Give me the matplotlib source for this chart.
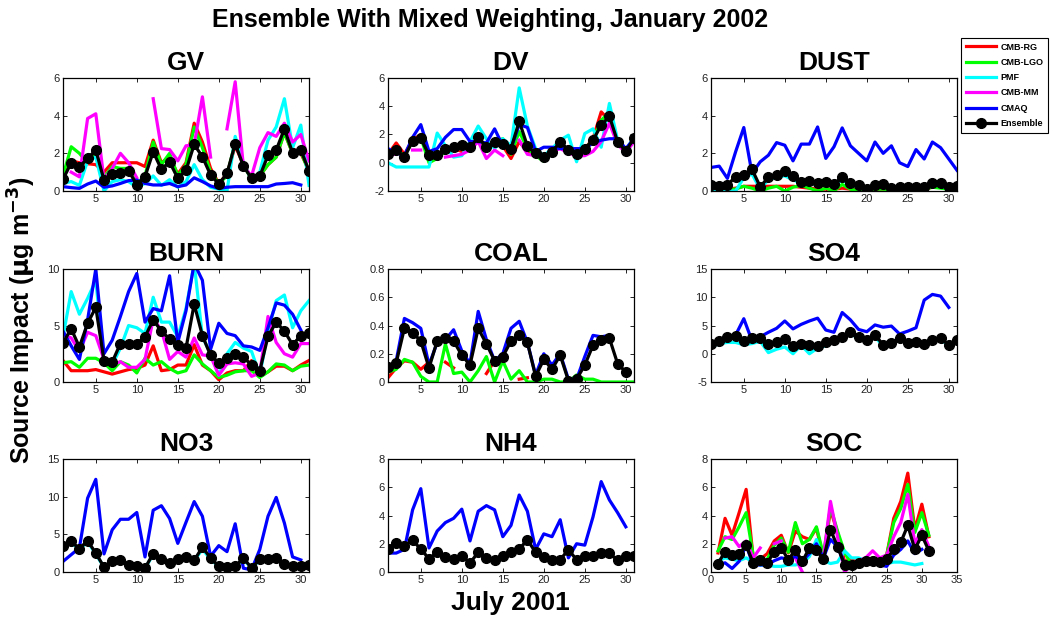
import numpy as np
import matplotlib
matplotlib.use('Agg')
import matplotlib.pyplot as plt
from matplotlib.lines import Line2D
from numpy import nan

plt.rcParams['font.family'] = ['Liberation Sans', 'DejaVu Sans']
plt.rcParams['mathtext.default'] = 'bf'

days = np.arange(1, 32)

# GV
gv_rg = [0.7,1.6,1.5,1.45,1.4,1.0,1.5,1.5,1.5,1.5,1.3,2.7,1.5,1.8,0.9,1.5,3.6,2.6,1.2,0.4,0.9,2.4,1.4,0.7,0.8,1.4,1.8,3.1,2.0,2.0,1.1]
gv_lgo = [0.8,2.35,2.0,1.5,2.1,0.7,1.3,1.2,1.2,0.4,0.8,2.6,1.4,2.0,0.8,1.4,3.4,2.3,1.0,0.4,0.8,2.6,1.4,0.6,0.8,1.4,1.8,3.1,2.0,2.1,1.0]
gv_pmf = [0.4,0.5,0.3,1.6,1.8,0.0,0.5,0.6,0.5,0.2,0.4,0.8,0.3,0.6,0.2,0.5,1.4,0.6,0.2,0.1,0.0,2.9,1.5,0.6,1.0,2.7,3.4,4.9,2.3,3.5,0.3]
gv_mm = [nan,1.0,0.75,3.85,4.1,0.6,1.2,2.0,1.5,0.7,nan,4.9,2.25,2.2,1.6,2.4,2.45,5.0,1.8,nan,3.3,5.8,1.3,0.8,2.3,3.1,2.9,3.6,2.6,3.0,1.6]
gv_cmaq = [0.23,0.18,0.14,0.37,0.53,0.2,0.27,0.4,0.55,0.58,0.4,0.32,0.32,0.4,0.23,0.32,0.7,0.5,0.27,0.14,0.2,0.23,0.23,0.23,0.23,0.23,0.37,0.4,0.44,0.32,nan]
gv_ens = [0.62,1.5,1.29,1.73,2.17,0.58,0.9,0.97,1.08,0.32,0.76,2.08,1.15,1.55,0.67,1.1,2.47,1.82,0.85,0.37,0.93,2.52,1.32,0.67,0.79,1.9,2.17,3.3,2.03,2.2,1.06]

# DV
dv_rg = [0.6,1.4,0.6,1.6,2.0,0.4,0.5,0.9,1.0,0.8,1.0,1.6,1.1,1.4,1.2,0.3,1.5,0.8,0.6,0.3,0.8,1.4,0.9,0.6,1.0,1.7,3.6,3.0,1.4,0.8,1.7]
dv_lgo = [0.6,0.9,0.5,1.5,1.8,0.0,0.3,0.8,1.0,1.0,1.0,1.7,1.1,1.5,1.7,0.6,2.2,1.0,0.5,0.1,0.7,1.4,0.9,0.5,1.0,1.6,3.0,3.6,1.5,0.8,1.8]
dv_pmf = [0.0,-0.3,-0.3,-0.3,-0.3,-0.3,2.1,1.2,0.4,0.5,1.5,2.6,1.7,1.0,1.7,1.2,5.3,2.6,1.0,0.5,1.0,1.6,1.95,0.07,2.07,2.4,1.1,4.2,1.6,0.9,1.8]
dv_mm = [0.6,0.6,nan,0.9,0.9,nan,nan,0.4,0.5,0.6,0.9,1.5,0.3,0.9,0.5,nan,1.6,0.6,0.5,0.4,0.8,1.0,0.7,0.5,0.5,0.8,1.5,2.8,1.3,0.7,1.5]
dv_cmaq = [1.0,0.7,0.5,1.8,2.7,0.8,1.0,1.8,2.35,2.35,1.5,1.5,1.4,2.4,1.2,1.0,2.7,2.5,0.8,1.1,1.1,1.0,1.0,1.0,1.0,1.4,1.6,1.7,1.7,1.0,1.7]
dv_ens = [0.59,0.9,0.38,1.55,1.72,0.54,0.54,1.0,1.08,1.25,1.08,1.79,1.13,1.48,1.3,1.0,2.94,1.18,0.66,0.42,0.78,1.48,0.9,0.59,1.0,1.6,2.66,3.3,1.48,0.82,1.72]

# DUST
dust_rg = [0.05,0.1,0.1,0.15,0.25,0.25,0.25,0.25,0.25,0.25,0.25,0.2,0.15,0.1,0.1,0.1,0.15,0.1,0.1,0.05,0.1,0.1,0.05,0.1,0.1,0.1,0.1,0.2,0.2,0.1,0.1]
dust_lgo = [0.05,0.1,0.1,0.1,0.25,0.15,0.0,0.15,0.25,0.0,0.2,0.3,0.15,0.0,0.15,0.0,0.35,0.1,0.0,0.05,0.1,0.1,0.05,0.1,0.05,0.1,0.1,0.2,0.15,0.1,0.05]
dust_pmf = [0.1,0.05,0.0,0.0,0.7,0.9,0.1,0.6,0.75,0.8,0.6,0.4,0.45,0.3,0.35,0.25,0.6,0.3,0.2,0.05,0.2,0.25,0.1,0.1,0.15,0.15,0.15,0.35,0.3,0.1,0.15]
dust_mm = [nan]*31
dust_cmaq = [1.25,1.32,0.67,2.08,3.37,0.93,1.55,1.9,2.57,2.43,1.6,2.49,2.49,3.4,1.73,2.35,3.35,2.4,2.0,1.6,2.6,2.0,2.4,1.5,1.3,2.2,1.7,2.6,2.3,1.7,1.1]
dust_ens = [0.32,0.26,0.32,0.76,0.85,1.15,0.23,0.72,0.85,1.06,0.8,0.5,0.55,0.4,0.48,0.35,0.76,0.4,0.3,0.1,0.3,0.35,0.15,0.2,0.2,0.2,0.2,0.45,0.4,0.2,0.25]

# BURN
burn_rg = [1.9,1.0,1.0,1.0,1.1,0.9,0.7,0.9,1.1,1.2,1.5,3.2,1.0,1.1,1.5,1.5,3.3,1.5,1.0,0.2,0.8,1.0,1.0,1.9,0.5,0.9,1.4,1.4,1.0,1.5,1.9]
burn_lgo = [1.7,1.8,1.3,2.1,2.1,1.7,1.0,1.8,1.5,0.8,2.1,1.5,1.8,1.2,0.8,1.0,2.4,1.6,1.0,0.4,0.6,0.9,1.0,1.0,0.4,0.9,1.6,1.5,1.0,1.4,1.5]
burn_pmf = [4.0,8.0,6.0,7.4,9.0,1.8,1.5,3.0,5.0,4.8,4.3,7.5,5.3,5.3,4.0,6.5,10.5,4.0,2.5,0.6,2.5,3.5,3.0,2.7,0.6,4.5,7.2,7.7,4.8,6.3,7.2]
burn_mm = [4.2,3.9,2.7,4.4,4.1,2.0,1.5,1.8,1.3,1.3,2.0,5.6,4.6,2.0,2.7,2.2,3.9,2.4,2.3,0.6,1.6,1.7,1.6,0.5,0.8,5.8,3.5,2.5,2.2,3.4,3.4]
burn_cmaq = [4.5,3.2,2.0,5.5,10.0,2.5,3.7,5.8,8.0,9.6,5.3,6.5,6.3,9.4,3.5,6.3,10.5,9.0,2.9,5.2,4.3,4.1,3.2,3.1,2.8,4.8,7.0,6.8,6.0,4.6,nan]
burn_ens = [3.47,4.7,3.1,5.2,6.6,1.9,1.76,3.4,3.4,3.4,4.0,5.5,4.5,3.8,3.3,3.0,6.9,4.1,2.35,1.7,2.1,2.5,2.2,1.5,1.0,4.05,5.3,4.5,3.3,4.1,4.3]

# COAL
coal_rg = [0.03,0.1,0.15,0.14,0.09,0.14,nan,0.14,0.1,nan,nan,nan,0.06,0.15,nan,nan,0.02,0.03,nan,nan,nan,nan,nan,nan,nan,nan,nan,nan,nan,nan,nan]
coal_lgo = [0.07,0.09,0.16,0.14,0.04,0.0,0.0,0.27,0.06,0.07,0.0,0.08,0.18,0.0,0.15,0.02,0.08,0.0,0.0,0.02,0.02,0.0,0.0,0.05,0.02,0.02,0.0,0.0,0.0,0.0,0.0]
coal_pmf = [nan]*31
coal_mm = [nan]*31
coal_cmaq = [0.1,0.15,0.45,0.42,0.38,0.12,0.28,0.3,0.37,0.22,0.13,0.5,0.3,0.15,0.2,0.38,0.43,0.28,0.05,0.2,0.12,0.2,0.02,0.02,0.18,0.33,0.32,0.33,nan,nan,nan]
coal_ens = [0.106,0.136,0.38,0.35,0.29,0.1,0.29,0.31,0.29,0.19,0.12,0.38,0.27,0.15,0.18,0.29,0.33,0.28,0.04,0.16,0.09,0.19,0.01,0.02,0.12,0.26,0.3,0.31,0.13,0.07,nan]

# SO4
so4_rg = [nan]*31
so4_lgo = [nan]*31
so4_pmf = [1.2,1.8,2.0,2.0,1.6,1.8,2.2,0.2,0.8,1.2,0.0,1.5,0.0,1.0,1.4,2.2,3.0,3.5,2.8,2.2,3.0,1.3,1.5,2.7,1.8,1.8,1.7,2.3,2.5,1.5,2.3]
so4_mm = [nan]*31
so4_cmaq = [1.8,1.7,2.7,3.3,6.2,2.3,3.0,3.8,4.5,5.8,4.4,5.2,5.8,6.3,4.2,3.8,7.3,6.0,4.3,3.9,5.1,4.7,4.9,3.5,4.0,4.6,9.5,10.5,10.2,8.2,nan]
so4_ens = [1.8,2.2,2.9,3.1,2.2,2.7,2.8,1.8,2.0,2.6,1.4,1.8,1.6,1.4,2.0,2.4,3.0,3.9,3.0,2.5,3.3,1.6,1.9,2.8,1.9,2.0,1.8,2.5,2.7,1.6,2.5]

# NO3
no3_rg = [nan]*31
no3_lgo = [nan]*31
no3_pmf = [3.2,3.9,3.0,4.0,2.4,0.6,1.3,1.5,0.8,0.7,0.5,2.3,1.6,1.1,1.6,1.9,1.5,3.0,1.7,0.7,0.6,0.7,1.7,0.5,1.6,1.6,1.7,1.0,0.7,0.7,0.9]
no3_mm = [nan]*31
no3_cmaq = [1.4,2.3,3.2,9.8,12.3,2.4,5.6,7.0,7.0,7.9,2.0,8.2,8.8,7.1,3.8,6.6,9.35,7.4,2.1,3.5,2.7,6.4,0.5,0.3,3.0,7.4,9.9,6.5,2.0,1.6,nan]
no3_ens = [3.4,4.05,3.1,4.15,2.5,0.66,1.4,1.55,0.88,0.75,0.53,2.43,1.72,1.2,1.72,2.0,1.55,3.3,1.85,0.75,0.66,0.75,1.85,0.53,1.72,1.72,1.85,1.1,0.75,0.75,0.97]

# NH4
nh4_rg = [nan]*31
nh4_lgo = [nan]*31
nh4_pmf = [nan]*31
nh4_mm = [nan]*31
nh4_cmaq = [1.34,1.34,1.6,4.4,5.9,1.7,2.9,3.5,3.8,4.45,2.2,4.3,4.7,4.4,2.5,3.3,5.45,4.3,1.6,2.7,2.5,3.7,1.0,2.0,1.9,3.9,6.4,5.1,4.2,3.2,nan]
nh4_ens = [1.62,2.05,1.86,2.24,1.62,0.94,1.39,1.06,0.92,1.15,0.64,1.39,0.99,0.82,1.15,1.39,1.62,2.28,1.39,1.06,0.82,0.87,1.58,0.87,1.15,1.15,1.34,1.34,0.82,1.15,1.15]

# SOC
soc_rg = [1.35,3.8,2.6,4.2,5.85,1.0,0.9,1.3,2.2,2.6,1.35,2.9,2.5,2.3,3.1,1.0,4.4,2.8,0.75,0.9,0.6,0.8,1.0,0.8,1.2,3.8,5.0,7.0,3.0,4.8,2.5]
soc_lgo = [1.5,2.5,2.3,3.2,4.2,1.2,0.5,0.9,1.9,2.4,1.4,3.5,2.0,2.3,3.2,1.2,4.6,2.9,1.4,0.5,0.6,0.8,1.0,0.8,1.2,3.5,4.5,6.2,2.8,4.2,2.6]
soc_pmf = [0.8,1.0,0.9,0.8,1.0,0.7,0.5,0.5,0.4,0.4,0.5,0.5,0.6,1.1,2.3,0.8,0.6,0.7,1.5,1.0,1.0,0.8,0.8,0.8,0.6,0.7,0.7,0.6,0.5,0.6,nan]
soc_mm = [nan,2.4,2.5,1.8,2.2,1.0,1.7,nan,2.0,2.2,nan,1.0,0.0,nan,nan,1.0,5.0,2.5,0.0,0.5,0.8,1.0,1.5,1.0,1.2,2.5,3.5,5.5,2.0,3.0,1.8]
soc_cmaq = [0.5,0.65,0.25,0.75,1.9,0.5,0.5,0.5,0.8,1.0,0.9,1.1,0.8,1.3,2.0,1.0,2.3,1.8,0.6,0.6,0.6,1.0,0.8,0.5,0.4,1.2,1.6,2.2,1.3,1.6,nan]
soc_ens = [0.6,1.45,1.2,1.25,1.9,0.64,0.87,0.64,1.45,1.7,0.87,1.55,0.75,1.7,1.55,0.92,3.0,1.8,0.52,0.52,0.65,0.75,0.8,0.7,0.9,1.6,2.1,3.3,1.6,2.6,1.5]

source_names = ['CMB-RG', 'CMB-LGO', 'PMF', 'CMB-MM', 'CMAQ']
source_colors = ['#ff0000', '#00ff00', '#00ffff', '#ff00ff', '#0000ff']

panels = [
    ('GV', [gv_rg, gv_lgo, gv_pmf, gv_mm, gv_cmaq], gv_ens, (0, 6), [0, 2, 4, 6]),
    ('DV', [dv_rg, dv_lgo, dv_pmf, dv_mm, dv_cmaq], dv_ens, (-2, 6), [-2, 0, 2, 4, 6]),
    ('DUST', [dust_rg, dust_lgo, dust_pmf, dust_mm, dust_cmaq], dust_ens, (0, 6), [0, 2, 4, 6]),
    ('BURN', [burn_rg, burn_lgo, burn_pmf, burn_mm, burn_cmaq], burn_ens, (0, 10), [0, 5, 10]),
    ('COAL', [coal_rg, coal_lgo, coal_pmf, coal_mm, coal_cmaq], coal_ens, (0, 0.8), [0, 0.2, 0.4, 0.6, 0.8]),
    ('SO4', [so4_rg, so4_lgo, so4_pmf, so4_mm, so4_cmaq], so4_ens, (-5, 15), [-5, 0, 5, 10, 15]),
    ('NO3', [no3_rg, no3_lgo, no3_pmf, no3_mm, no3_cmaq], no3_ens, (0, 15), [0, 5, 10, 15]),
    ('NH4', [nh4_rg, nh4_lgo, nh4_pmf, nh4_mm, nh4_cmaq], nh4_ens, (0, 8), [0, 2, 4, 6, 8]),
    ('SOC', [soc_rg, soc_lgo, soc_pmf, soc_mm, soc_cmaq], soc_ens, (0, 8), [0, 2, 4, 6, 8]),
]

W, H = 1056, 618
fig = plt.figure(figsize=(W / 100, H / 100), dpi=100)

col_x = [63, 388, 711]
row_y = [78, 269, 459]
aw, ah = 246, 113

for i, (name, series, ens, ylim, yticks) in enumerate(panels):
    r, c = divmod(i, 3)
    ax = fig.add_axes([col_x[c] / W, 1 - (row_y[r] + ah) / H, aw / W, ah / H])
    for vals, col in zip(series, source_colors):
        ax.plot(days, vals, color=col, lw=2.3)
    ax.plot(days, ens, color='black', lw=2.3, marker='o', ms=7)
    ax.set_ylim(*ylim)
    ax.set_yticks(yticks)
    ax.set_yticklabels([('%g' % t) for t in yticks])
    if name == 'SOC':
        ax.set_xlim(0, 35)
        ax.set_xticks(range(0, 36, 5))
    else:
        ax.set_xlim(1, 31)
        ax.set_xticks(range(5, 31, 5))
    ax.tick_params(direction='in', top=True, right=True, labelsize=8,
                   length=3, width=0.6, pad=2.5, colors='black')
    for lab in ax.get_xticklabels() + ax.get_yticklabels():
        lab.set_color('#222222')
    for sp in ax.spines.values():
        sp.set_linewidth(0.9)
    ax.set_title(name, fontsize=19, fontweight='bold', pad=6)

fig.text(490 / W, 1 - 20 / H, 'Ensemble With Mixed Weighting, January 2002',
         ha='center', va='center', fontsize=18, fontweight='bold')
fig.text(510 / W, 1 - 603 / H, 'July 2001', ha='center', va='center',
         fontsize=19, fontweight='bold')
fig.text(22 / W, 1 - 320 / H, r'Source Impact ($\mu$g m$^{-3}$)', ha='center',
         va='center', rotation=90, fontsize=18, fontweight='bold')

handles = [Line2D([], [], color=col, lw=2.3) for col in source_colors]
handles.append(Line2D([], [], color='black', lw=2.3, marker='o', ms=7))
leg = fig.legend(handles, source_names + ['Ensemble'], loc='upper left',
                 bbox_to_anchor=(961 / W, 1 - 38 / H), borderaxespad=0,
                 fancybox=False, edgecolor='black', framealpha=1,
                 handlelength=3.4, labelspacing=0.7, handletextpad=0.5,
                 borderpad=0.5, prop={'size': 6.5, 'weight': 'bold'})
leg.get_frame().set_linewidth(0.8)

fig.savefig('out.png', dpi=100)
